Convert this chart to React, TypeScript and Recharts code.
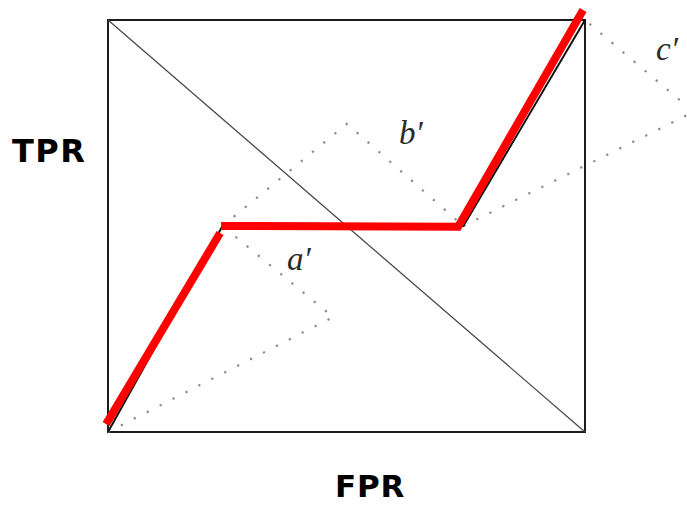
import { LineChart, Line, XAxis, YAxis, ReferenceArea, ReferenceDot, Label } from 'recharts';

// ROC curve (black) and its three vertex-projection triangles
const rocX = [0, 0.24, 0.745, 1];
const rocY = [0, 0.5, 0.5, 1];

// red highlight, drawn as two strokes
const redLowX = [-0.004, 0.235];
const redLowY = [0.019, 0.483];
const redUpX = [0.237, 0.734, 0.996];
const redUpY = [0.5, 0.498, 1.024];

// dotted triangles a', b', c'
const aX = [0, 0.472, 0.24];
const aY = [0, 0.279, 0.5];
const bX = [0.24, 0.501, 0.745];
const bY = [0.5, 0.748, 0.5];
const cX = [0.745, 1.228, 1];
const cY = [0.5, 0.777, 1];

// diagonal
const diagX = [0, 1];
const diagY = [1, 0];

const labelText = ['a′', 'b′', 'c′'];
const labelX = [0.375, 0.61, 1.149];
const labelY = [0.393, 0.699, 0.903];

const toPoints = (xs: number[], ys: number[]) => xs.map((x, i) => ({ x, y: ys[i] }));

const W = 687;
const H = 505;

export default function App() {
    const mathLabel = (text: string) => (props: any) => {
        const vb = props.viewBox || {};
        return (
            <text
                x={vb.x}
                y={vb.y}
                fontFamily="'Liberation Serif', 'DejaVu Serif', serif"
                fontStyle="italic"
                fontSize={33}
                fill="#2a2a2a"
            >
                {text}
            </text>
        );
    };

    const dotted = { stroke: '#8a8a8a', strokeWidth: 2.2, strokeDasharray: '2.2 12.3' };

    return (
        <div style={{ position: 'absolute', left: 0, top: 0, width: W, height: H, background: '#fff' }}>
            <LineChart width={W} height={H} margin={{ top: 0, right: 0, bottom: 0, left: 0 }}>
                <XAxis
                    type="number"
                    dataKey="x"
                    hide
                    domain={[-0.22642, 1.21384]}
                    allowDataOverflow
                />
                <YAxis
                    type="number"
                    dataKey="y"
                    hide
                    domain={[-0.17718, 1.04854]}
                    allowDataOverflow
                />

                {/* unit box */}
                <ReferenceArea
                    x1={0}
                    x2={1}
                    y1={0}
                    y2={1}
                    fill="none"
                    fillOpacity={0}
                    stroke="#1c1c1c"
                    strokeWidth={2}
                />

                <Line data={toPoints(diagX, diagY)} dataKey="y" stroke="#4a4a4a" strokeWidth={1.3} dot={false} activeDot={false} isAnimationActive={false} />

                <Line data={toPoints(aX, aY)} dataKey="y" {...dotted} dot={false} activeDot={false} isAnimationActive={false} />
                <Line data={toPoints(bX, bY)} dataKey="y" {...dotted} dot={false} activeDot={false} isAnimationActive={false} />
                <Line data={toPoints(cX, cY)} dataKey="y" {...dotted} dot={false} activeDot={false} isAnimationActive={false} />

                <Line data={toPoints(rocX, rocY)} dataKey="y" stroke="#111" strokeWidth={2} dot={false} activeDot={false} isAnimationActive={false} />

                <Line data={toPoints(redLowX, redLowY)} dataKey="y" stroke="#ff0000" strokeWidth={8} strokeLinecap="butt" dot={false} activeDot={false} isAnimationActive={false} />
                <Line data={toPoints(redUpX, redUpY)} dataKey="y" stroke="#ff0000" strokeWidth={8} strokeLinecap="butt" strokeLinejoin="miter" dot={false} activeDot={false} isAnimationActive={false} />

                {labelText.map((t, i) => (
                    <ReferenceDot
                        key={t}
                        x={labelX[i]}
                        y={labelY[i]}
                        r={0}
                        fill="none"
                        stroke="none"
                        ifOverflow="visible"
                    >
                        <Label content={mathLabel(t)} />
                    </ReferenceDot>
                ))}
            </LineChart>

            <svg width={W} height={H} style={{ position: 'absolute', left: 0, top: 0, pointerEvents: 'none' }}>
                <text x={12} y={162} fontFamily="'DejaVu Sans', Verdana, sans-serif" fontWeight="bold" fontSize={32} letterSpacing={1.5} fill="#000">
                    TPR
                </text>
                <text x={335} y={497} fontFamily="'DejaVu Sans', Verdana, sans-serif" fontWeight="bold" fontSize={31} letterSpacing={0.8} fill="#000">
                    FPR
                </text>
            </svg>
        </div>
    );
}
